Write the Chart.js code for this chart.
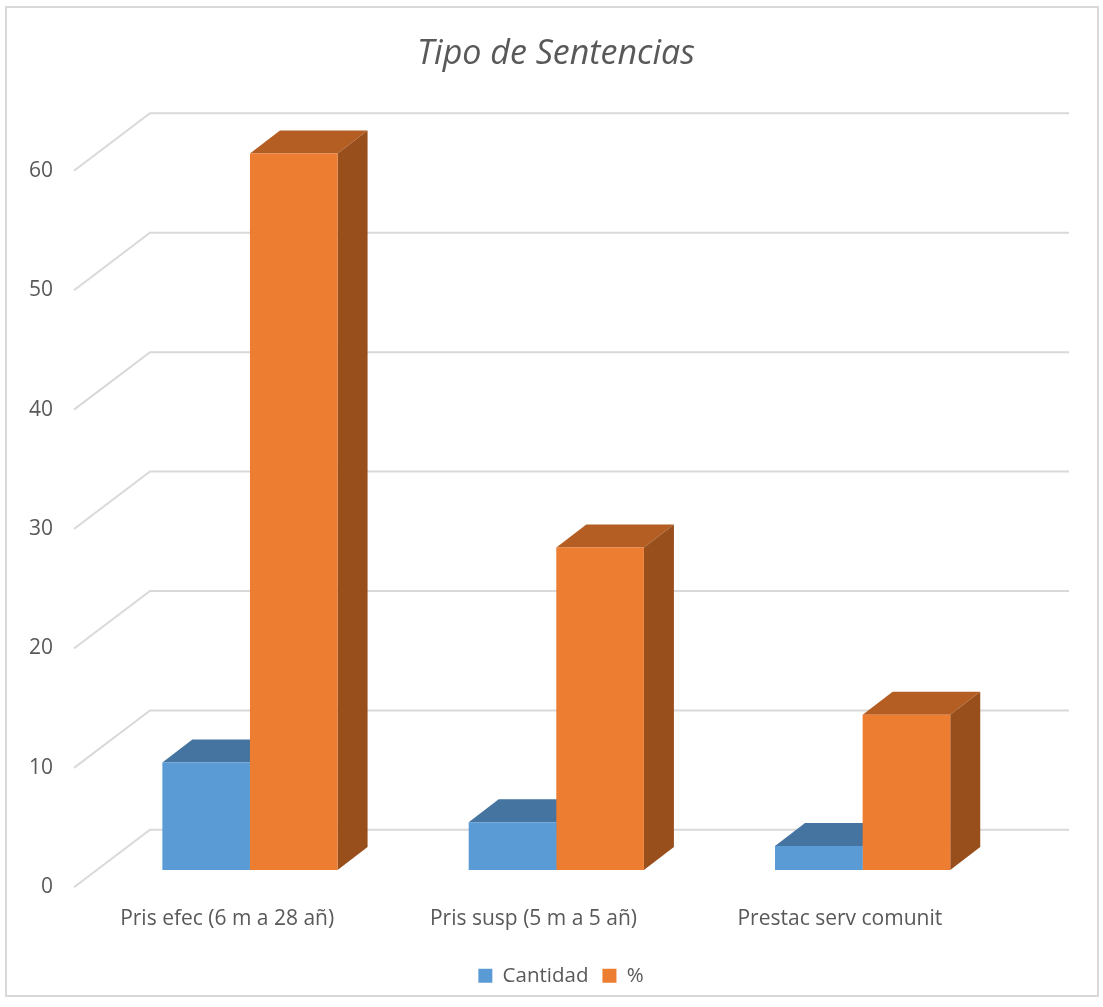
<!DOCTYPE html>
<html>
<head>
<meta charset="utf-8">
<title>Tipo de Sentencias</title>
<script src="https://cdn.jsdelivr.net/npm/chart.js@4"></script>
<style>
    html, body { margin: 0; padding: 0; background: #fff; }
    canvas { display: block; }
</style>
</head>
<body>
<canvas id="sentenciasChart" width="1103" height="1007"></canvas>
<script>
const categories = ['Pris efec (6 m a 28 añ)', 'Pris susp (5 m a 5 añ)', 'Prestac serv comunit'];
const cantidad = [9, 4, 2];
const porcentaje = [60, 27, 13];

const FONT = '"Open Sans", sans-serif';
const TEXT_COLOR = '#595959';
const GRID_COLOR = '#d9d9d9';

// === 3D look: floor depth and how far the bars sit inside it ===
const WALL_DX = 76, WALL_DY = 57.5;
const BAR_SHIFT_X = 22.8, BAR_SHIFT_Y = 17.4;
const BAR_DX = 30, BAR_DY = 23;

const faceColors = [
    { top: '#44749f', side: '#3a6389' },
    { top: '#b45e23', side: '#984f1c' }
];

function fillPoly(ctx, color, pts) {
    ctx.fillStyle = color;
    ctx.beginPath();
    pts.forEach((p, i) => i ? ctx.lineTo(p[0], p[1]) : ctx.moveTo(p[0], p[1]));
    ctx.closePath();
    ctx.fill();
}

const wallsAndFaces = {
    id: 'wallsAndFaces',
    afterLayout(chart) {
        // nudge the legend a little right and down from where the layout puts it
        chart.legend.left += 5;
        chart.legend.right += 5;
        chart.legend.top += 9;
        chart.legend.bottom += 9;
    },
    beforeDraw(chart) {
        const { ctx, chartArea, scales } = chart;
        ctx.save();
        // outer frame
        ctx.strokeStyle = GRID_COLOR;
        ctx.lineWidth = 2;
        ctx.strokeRect(6, 7, 1092, 989);

        // side wall diagonals and back wall lines, one per y tick
        scales.y.ticks.forEach(tick => {
            const y = scales.y.getPixelForValue(tick.value);
            ctx.beginPath();
            ctx.moveTo(chartArea.left, y);
            ctx.lineTo(chartArea.left + WALL_DX, y - WALL_DY);
            ctx.lineTo(chartArea.right + WALL_DX, y - WALL_DY);
            ctx.stroke();
        });
        ctx.restore();
    },
    beforeDatasetsDraw(chart) {
        const { ctx } = chart;
        ctx.save();
        ctx.translate(BAR_SHIFT_X, -BAR_SHIFT_Y);

        // top and side faces go first, the fronts are drawn over them by Chart.js
        chart.data.datasets.forEach((ds, d) => {
            chart.getDatasetMeta(d).data.forEach(bar => {
                const l = bar.x - bar.width / 2;
                const r = bar.x + bar.width / 2;
                fillPoly(ctx, faceColors[d].top, [
                    [l, bar.y], [l + BAR_DX, bar.y - BAR_DY],
                    [r + BAR_DX, bar.y - BAR_DY], [r, bar.y]
                ]);
                fillPoly(ctx, faceColors[d].side, [
                    [r, bar.y], [r + BAR_DX, bar.y - BAR_DY],
                    [r + BAR_DX, bar.base - BAR_DY], [r, bar.base]
                ]);
            });
        });
    },
    afterDatasetsDraw(chart) {
        chart.ctx.restore();
    }
};

new Chart(document.getElementById('sentenciasChart').getContext('2d'), {
    type: 'bar',
    data: {
        labels: categories,
        datasets: [
            { label: 'Cantidad', data: cantidad, backgroundColor: '#5b9bd5', clip: false, categoryPercentage: 0.572, barPercentage: 1 },
            { label: '%', data: porcentaje, backgroundColor: '#ed7d31', clip: false, categoryPercentage: 0.572, barPercentage: 1 }
        ]
    },
    plugins: [wallsAndFaces],
    options: {
        responsive: false,
        animation: false,
        layout: { padding: { left: 9, right: 0, top: 34, bottom: 20 } },
        plugins: {
            title: {
                display: true,
                text: 'Tipo de Sentencias',
                color: TEXT_COLOR,
                font: { family: FONT, size: 34, style: 'italic', weight: 'normal' },
                padding: { top: 0, bottom: 96 }
            },
            legend: {
                position: 'bottom',
                labels: {
                    color: TEXT_COLOR,
                    font: { family: FONT, size: 20.5 },
                    boxWidth: 14,
                    boxHeight: 14,
                    padding: 14
                }
            },
            tooltip: { enabled: false }
        },
        scales: {
            x: {
                grid: { display: false },
                border: { display: false },
                ticks: {
                    color: TEXT_COLOR,
                    font: { family: FONT, size: 21 },
                    maxRotation: 0,
                    padding: 11
                }
            },
            y: {
                min: 0,
                max: 60,
                grid: { display: false },
                border: { display: false },
                ticks: {
                    stepSize: 10,
                    color: TEXT_COLOR,
                    font: { family: FONT, size: 21 },
                    padding: 13
                },
                afterFit(scale) { scale.width = 65; }
            },
            // empty axis, only keeps the plot clear of the back wall overhang
            wallGap: {
                axis: 'y',
                position: 'right',
                grid: { display: false },
                border: { display: false },
                ticks: { display: false },
                afterFit(scale) { scale.width = 110; }
            }
        }
    }
});
</script>
</body>
</html>
